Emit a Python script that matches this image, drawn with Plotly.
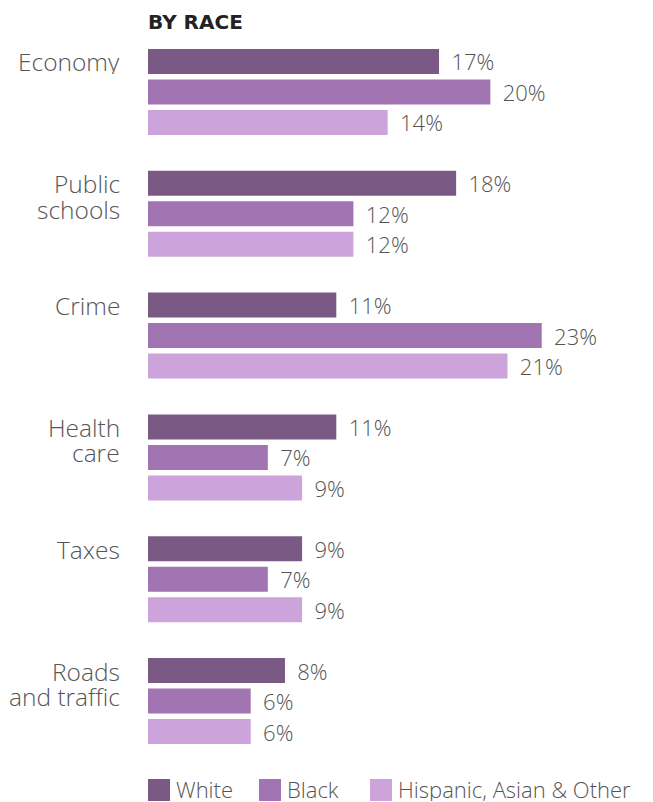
import plotly.graph_objects as go

categories = ["Economy", "Public schools", "Crime", "Health care", "Taxes", "Roads and traffic"]
category_lines = [["Economy"], ["Public", "schools"], ["Crime"], ["Health", "care"],
                  ["Taxes"], ["Roads", "and traffic"]]
series_names = ["White", "Black", "Hispanic, Asian & Other"]
white = [17, 18, 11, 11, 9, 8]
black = [20, 12, 23, 7, 7, 6]
hispanic_asian_other = [14, 12, 21, 9, 9, 6]

colors = ["#7B5985", "#A274B1", "#CCA3DA"]
FONT = "Open Sans"
TEXT_COLOR = "#555555"

fig = go.Figure()
for name, vals, col in zip(series_names, [white, black, hispanic_asian_other], colors):
    fig.add_trace(go.Bar(
        y=categories, x=vals, name=name, orientation="h",
        marker=dict(color=col, line=dict(width=0)),
        text=[f"\u00a0\u2009{v}%" for v in vals],
        textposition="outside", cliponaxis=False, constraintext="none",
        textfont=dict(family=FONT, size=22, color=TEXT_COLOR, weight=300),
        hoverinfo="skip", showlegend=False,
    ))

W, H = 653, 802
ML, MT, MB, MR = 148, 31, 40, 0
PH = H - MT - MB

fig.update_layout(
    width=W, height=H,
    margin=dict(l=ML, r=MR, t=MT, b=MB, autoexpand=False),
    paper_bgcolor="white", plot_bgcolor="white",
    showlegend=False,
    barmode="group", bargap=0.249, bargroupgap=0.18,
    xaxis=dict(range=[0, 29.5], visible=False, fixedrange=True),
    yaxis=dict(range=[5.5, -0.5], showticklabels=False, showgrid=False,
               zeroline=False, showline=False, ticks="", fixedrange=True,
               automargin=False),
    font=dict(family=FONT, color=TEXT_COLOR),
)

# Title
fig.add_annotation(text="<b>BY RACE</b>", xref="paper", yref="paper", x=0, y=1,
                   xanchor="left", yanchor="bottom", xshift=-2, yshift=-5, showarrow=False,
                   font=dict(family="DejaVu Sans", size=20, color="#222222"))

# Category labels: first line centred on the group's first bar, 25.5 px line step
for i, lines in enumerate(category_lines):
    for j, line in enumerate(lines):
        fig.add_annotation(text=line, xref="paper", yref="y", x=0, y=i - 0.25,
                           xanchor="right", yanchor="middle", xshift=-26,
                           yshift=0 - 25.5 * j, height=26, valign="middle",
                           align="right", showarrow=False,
                           font=dict(family=FONT, size=24.5, color=TEXT_COLOR, weight=300))

# Legend: square swatches followed by series names
plot_w = W - ML - MR
legend_x = [148, 259, 370]
for name, col, lx in zip(series_names, colors, legend_x):
    x0 = (lx - ML) / plot_w
    x1 = (lx + 22 - ML) / plot_w
    fig.add_shape(type="rect", xref="paper", yref="paper", x0=x0, x1=x1,
                  y0=-(801 - (H - MB)) / PH,
                  y1=-(779 - (H - MB)) / PH,
                  fillcolor=col, line=dict(width=0))
    fig.add_annotation(text=name, xref="paper", yref="paper",
                       x=(lx + 26 - ML) / plot_w,
                       y=-(789 - (H - MB)) / PH,
                       xanchor="left", yanchor="middle", showarrow=False,
                       height=24, valign="middle",
                       font=dict(family=FONT, size=22, color=TEXT_COLOR, weight=300))

fig.write_html("out.html")
